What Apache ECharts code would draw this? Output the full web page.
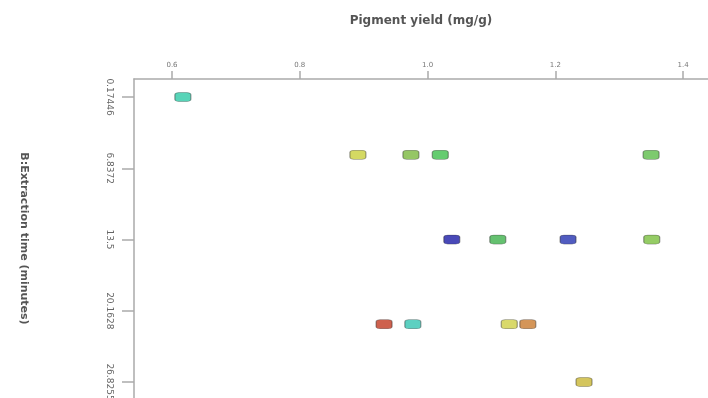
<!DOCTYPE html>
<html>
<head>
<meta charset="utf-8">
<script src="https://cdn.jsdelivr.net/npm/echarts@6/dist/echarts.min.js"></script>
<style>
  html, body { margin: 0; padding: 0; background: #fff; }
  #chart { width: 708px; height: 398px; }
</style>
</head>
<body>
<div id="chart"></div>
<script>
// pigment yield (x) and extraction time (y) of each run
const yields = [0.617, 0.891, 0.974, 1.020, 1.350, 1.038, 1.110, 1.220, 1.351, 0.932, 0.977, 1.128, 1.157, 1.245];
const times = [0.17446, 5.5776, 5.5776, 5.5776, 5.5776, 13.5, 13.5, 13.5, 13.5, 21.4224, 21.4224, 21.4224, 21.4224, 26.8255];
const pointColors = ['#2ec9a6', '#c9cf3c', '#7ab83e', '#3fbf4c', '#5cbd4a', '#1c1ca6', '#3fb24c', '#2633b0', '#7bbf3e', '#c23a22', '#33c4b2', '#cfd046', '#c97a2e', '#c9b634'];

// axis ticks
const xTicks = [0.6, 0.8, 1.0, 1.2, 1.4];
const yTicks = [0.17446, 6.8372, 13.5, 20.1628, 26.8255];

const chart = echarts.init(document.getElementById('chart'));

const points = yields.map((x, i) => ({
  value: [x, times[i]],
  itemStyle: { color: pointColors[i] }
}));

const option = {
  animation: false,
  textStyle: { fontFamily: 'DejaVu Sans' },
  grid: { left: 134, top: 79, right: 0, bottom: 0, outerBoundsMode: 'none', containLabel: false },
  xAxis: {
    type: 'value',
    position: 'top',
    min: 0.5405,
    max: 1.4391,
    name: 'Pigment yield (mg/g)',
    nameLocation: 'middle',
    nameGap: 52,
    nameTextStyle: { color: '#555', fontSize: 12, fontWeight: 'bold' },
    axisLine: { show: true, onZero: false, lineStyle: { color: '#aaa', width: 1.5 } },
    axisTick: { show: true, length: 8, customValues: xTicks, lineStyle: { color: '#aaa', width: 1.5 } },
    axisLabel: { customValues: xTicks, fontSize: 7, color: '#777', margin: 10, formatter: v => v.toFixed(1) },
    splitLine: { show: false }
  },
  yAxis: {
    type: 'value',
    inverse: true,
    min: -1.509,
    max: 28.321,
    name: 'B:Extraction time (minutes)',
    nameLocation: 'middle',
    nameRotate: -90,
    nameGap: 105,
    nameTextStyle: { color: '#555', fontSize: 11, fontWeight: 'bold' },
    axisLine: { show: true, onZero: false, lineStyle: { color: '#aaa', width: 1.5 } },
    axisTick: { show: true, length: 12, customValues: yTicks, lineStyle: { color: '#aaa', width: 1.5 } },
    axisLabel: { customValues: yTicks, rotate: -90, fontSize: 9, color: '#666', margin: 20, formatter: v => String(v) },
    splitLine: { show: false }
  },
  series: [{
    type: 'scatter',
    symbol: 'roundRect',
    symbolSize: [16, 9],
    itemStyle: { borderColor: 'rgba(40,40,40,0.5)', borderWidth: 1 },
    data: points
  }]
};

chart.setOption(option);
</script>
</body>
</html>
